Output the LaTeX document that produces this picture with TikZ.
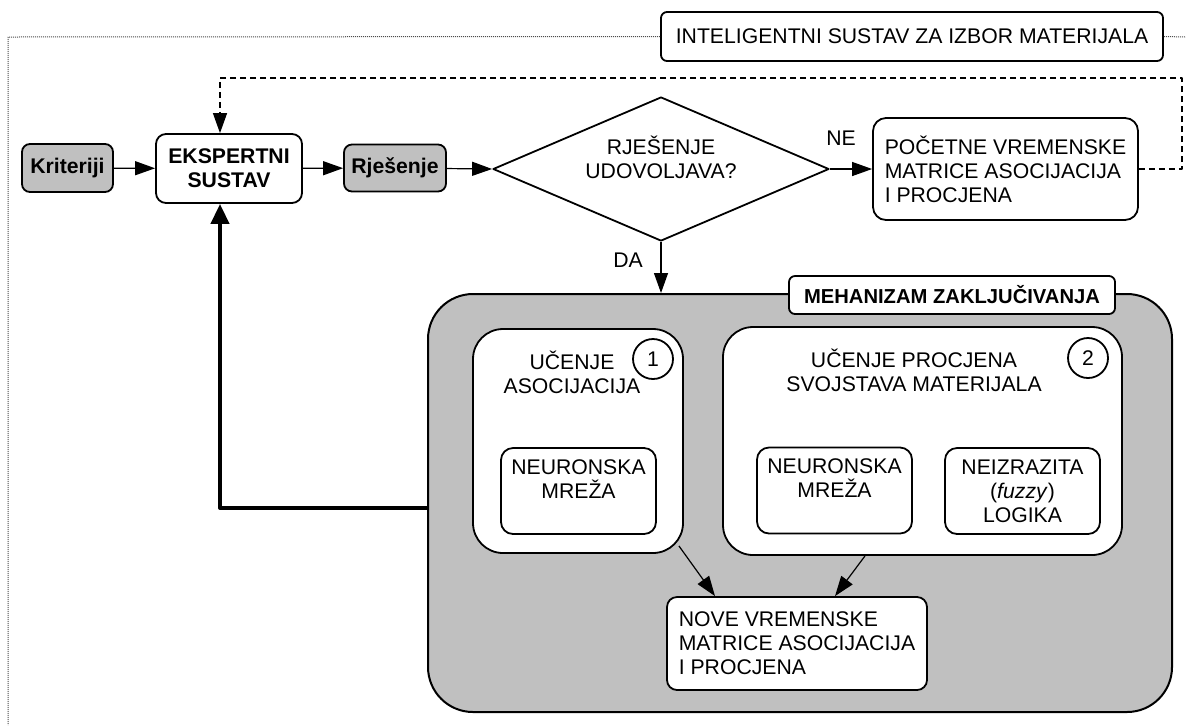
\documentclass[tikz,border=0pt]{standalone}
\usepackage{fontspec}
\setmainfont{Liberation Sans}
\usetikzlibrary{arrows.meta,shapes.geometric}
\definecolor{boxgray}{RGB}{192,192,192}

\begin{document}
\begin{tikzpicture}[x=0.5pt, y=-0.5pt, line width=0.9pt, line join=round,
  every node/.style={font=\fontsize{10.6}{12}\selectfont, inner sep=0pt},
  box/.style={draw, fill=white, rounded corners=5pt},
  greybox/.style={box, fill=boxgray, rounded corners=4pt, font=\fontsize{10.6}{12}\selectfont\bfseries},
  panel/.style={box, rounded corners=15pt},
  inbox/.style={box, rounded corners=6pt, align=center, minimum width=77.5pt, minimum height=43pt},
  badge/.style={draw, circle, fill=white, minimum size=20pt},
  flow/.style={line width=0.6pt, -{Triangle[length=10pt,width=7pt]}},
  frame/.style={dash pattern=on 0.5pt off 0.5pt, black!70, line width=0.5pt}]
  \useasboundingbox (0,0) rectangle (1186,725);

  % outer frame and title
  \node[box, rounded corners=3pt, minimum width=251pt, minimum height=24.5pt] (title) at (912,36.5) {INTELIGENTNI SUSTAV ZA IZBOR MATERIJALA};
  \coordinate (frameTL) at (8,37);
  \coordinate (frameBL) at (8,725);
  \coordinate (frameTR) at (1186,37);
  \draw[frame] (title.west) -- (frameTL) -- (frameBL);
  \draw[frame] (title.east) -- (frameTR);

  % top row
  \node[greybox, minimum width=45.5pt, minimum height=24pt] (crit) at (67.5,168) {Kriteriji};
  \node[box, align=center, font=\fontsize{10.6}{12}\selectfont\bfseries, minimum width=73pt, minimum height=34.5pt] (expert) at (229,168.5) {EKSPERTNI\\SUSTAV};
  \node[greybox, minimum width=51pt, minimum height=23.5pt] (sol) at (395,168) {Rješenje};
  \node[draw, diamond, minimum width=168pt, minimum height=72pt] (check) at (661,169) {};
  \node[align=center] (checktxt) at (661,157.5) {RJEŠENJE\\UDOVOLJAVA?};
  \node[box, rounded corners=6.5pt, align=left, minimum width=132.5pt, minimum height=51pt] (initmat) at (1005.5,169) {POČETNE VREMENSKE\\MATRICE ASOCIJACIJA\\I PROCJENA};
  \node (no) at (841,138) {NE};
  \node (yes) at (628,260) {DA};

  % inference engine
  \node[draw, fill=boxgray, rounded corners=22.5pt, line width=1pt, minimum width=372pt, minimum height=209pt] (engine) at (800,503) {};
  \node[box, rounded corners=3pt, font=\fontsize{10.1}{12}\selectfont\bfseries, minimum width=163pt, minimum height=19pt] (enginetxt) at (952,295) {MEHANIZAM ZAKLJUČIVANJA};

  \node[panel, minimum width=105pt, minimum height=112pt] (learnA) at (578,441) {};
  \node[align=center] (learnAtxt) at (572,372) {UČENJE\\ASOCIJACIJA};
  \node[badge] (numA) at (653,359) {1};
  \node[inbox] (netA) at (578.5,491) {NEURONSKA\\MREŽA\\~};

  \node[panel, minimum width=199.5pt, minimum height=114pt] (learnB) at (922.5,441) {};
  \node[align=center] (learnBtxt) at (914,370.5) {UČENJE PROCJENA\\SVOJSTAVA MATERIJALA};
  \node[badge] (numB) at (1088,358) {2};
  \node[inbox] (netB) at (834.5,490.5) {NEURONSKA\\MREŽA\\~};
  \node[inbox] (fuzzy) at (1022.5,491) {NEIZRAZITA\\(\textit{fuzzy})\\LOGIKA};

  \node[box, align=left, minimum width=130pt, minimum height=46.5pt] (newmat) at (797,643.5) {NOVE VREMENSKE\\MATRICE ASOCIJACIJA\\I PROCJENA};

  % connectors
  \draw[flow] (crit) -- (expert);
  \draw[flow] (expert) -- (sol);
  \draw[flow] (sol) -- (check.west);
  \draw[flow] (check.east) -- (initmat.west);
  \draw[flow] (check.south) -- (check.south |- engine.north);
  \coordinate (loopTR) at (1182,78);
  \draw[flow, dash pattern=on 3pt off 2pt] (initmat.east) -| (loopTR) -| ([xshift=-4.5pt]expert.north);
  \draw[line width=2pt, -{Triangle[length=10pt,width=9pt]}] ([yshift=-2.5pt]engine.west) -| ([xshift=-4.5pt]expert.south);
  \draw[flow] ([xshift=-2.5pt,yshift=4pt]learnA.south east) -- ([xshift=-41pt]newmat.north);
  \draw[flow] ([xshift=-28.75pt]learnB.south) -- ([xshift=19pt]newmat.north);
\end{tikzpicture}
\end{document}
